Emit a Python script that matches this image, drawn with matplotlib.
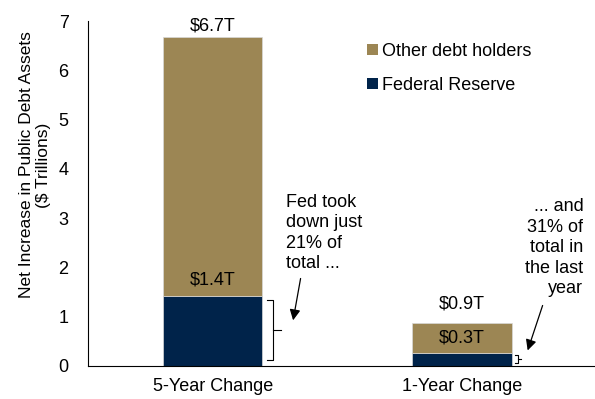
import matplotlib.pyplot as plt
from matplotlib.patches import Patch

plt.rcParams['font.family'] = ['Liberation Sans', 'DejaVu Sans']

# Data ($ trillions)
categories = ['5-Year Change', '1-Year Change']
fed = [1.42, 0.27]
other = [5.25, 0.60]
total_labels = ['$6.7T', '$0.9T']
fed_labels = ['$1.4T', '$0.3T']

gold = '#9C8654'
navy = '#00234A'
fs = 13

fig = plt.figure(figsize=(5.95, 3.99), dpi=100)
ax = fig.add_axes([0.148, 0.083, 0.85, 0.864])

x = list(range(len(categories)))
w = 0.4
ax.bar(x, fed, width=w, color=navy, edgecolor='#d8d8d8', linewidth=0.5, zorder=2)
ax.bar(x, other, width=w, bottom=fed, color=gold, edgecolor='#d8d8d8', linewidth=0.5, zorder=2)

ax.set_xlim(-0.5, 1.53)
ax.set_ylim(0, 7)
ax.set_xticks(x)
ax.set_xticklabels(categories, fontsize=fs)
ax.set_yticks(range(8))
ax.tick_params(axis='both', length=0, labelsize=fs)
ax.tick_params(axis='x', pad=9)
ax.tick_params(axis='y', pad=14)
for s in ['top', 'right']:
    ax.spines[s].set_visible(False)
ax.set_ylabel('Net Increase in Public Debt Assets\n($ Trillions)', fontsize=12.5,
              linespacing=1.15)
ax.yaxis.set_label_coords(-0.074, 0.583)

# value labels
ax.text(0, fed[0] + other[0] + 0.06, total_labels[0], ha='center', va='bottom', fontsize=fs)
ax.text(1, fed[1] + other[1] + 0.22, total_labels[1], ha='center', va='bottom', fontsize=fs)
ax.text(0, fed[0] + 0.16, fed_labels[0], ha='center', va='bottom', fontsize=fs)
ax.text(1, fed[1] + other[1] / 2, fed_labels[1], ha='center', va='center', fontsize=fs)

# braces next to fed segments
def brace(xc, y0, y1, d1, d2):
    ax.plot([xc, xc + d1, xc + d1, xc], [y1, y1, y0, y0], color='black', lw=0.8)
    ym = (y0 + y1) / 2
    ax.plot([xc + d1, xc + d2], [ym, ym], color='black', lw=0.8)

brace(0.22, 0.12, fed[0] - 0.08, 0.024, 0.056)
brace(1.214, 0.06, fed[1] - 0.05, 0.012, 0.024)

# annotations
ax.text(0.296, 3.5, 'Fed took\ndown just\n21% of\ntotal ...', ha='left', va='top',
        fontsize=fs, linespacing=1.27)
ax.annotate('', xy=(0.321, 0.87), xytext=(0.355, 1.83),
            arrowprops=dict(arrowstyle='-|>', color='black', lw=0.9, mutation_scale=16))
ax.text(1.488, 3.4, '... and\n31% of\ntotal in\nthe last\nyear', ha='right', va='top',
        fontsize=fs, linespacing=1.27)
ax.annotate('', xy=(1.261, 0.26), xytext=(1.328, 1.28),
            arrowprops=dict(arrowstyle='-|>', color='black', lw=0.9, mutation_scale=16))

handles = [Patch(facecolor=gold, label='Other debt holders'),
           Patch(facecolor=navy, label='Federal Reserve')]
fig.legend(handles=handles, loc='upper left', bbox_to_anchor=(0.602, 0.915), frameon=False,
           fontsize=fs, handlelength=0.6, handleheight=0.6, handletextpad=0.2,
           labelspacing=0.95, borderpad=0)

fig.savefig('out.png', dpi=100)
